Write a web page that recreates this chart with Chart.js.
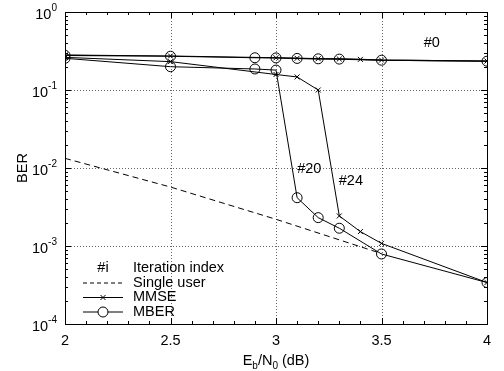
<!DOCTYPE html>
<html><head><meta charset="utf-8">
<script src="https://cdn.jsdelivr.net/npm/chart.js@4"></script>
<style>html,body{margin:0;padding:0;background:#fff}#c{display:block}</style>
</head><body>
<div style="width:504px;height:371px"><canvas id="c" width="504" height="371"></canvas></div>
<script>
// ---- data ----
const xTicks = [2, 2.5, 3, 3.5, 4];
const xTickLabels = ['2', '2.5', '3', '3.5', '4'];
const yTicks = [1, 0.1, 0.01, 0.001, 0.0001];
const yTickExponents = ['0', '-1', '-2', '-3', '-4'];

const snrMMSE0 = [2, 2.5, 3, 3.1, 3.2, 3.3, 3.4, 3.5, 4];
const berMMSE0 = [0.281, 0.273, 0.259, 0.255, 0.252, 0.25, 0.247, 0.242, 0.235];
const snrMBER0 = [2, 2.5, 2.9, 3, 3.1, 3.2, 3.3, 3.5, 4];
const berMBER0 = [0.278, 0.271, 0.259, 0.258, 0.254, 0.251, 0.249, 0.241, 0.234];
const snrMMSE24 = [2, 2.5, 3, 3.1, 3.2, 3.3, 3.4, 3.5, 4];
const berMMSE24 = [0.262, 0.231, 0.158, 0.147, 0.1, 0.00243, 0.00153, 0.00108, 0.00034];
const snrMBER20 = [2, 2.5, 2.9, 3, 3.1, 3.2, 3.3, 3.5, 4];
const berMBER20 = [0.255, 0.199, 0.186, 0.180, 0.00416, 0.00231, 0.00169, 0.00079, 0.00034];
const snrSingle = [2, 2.5, 3, 3.5];
const berSingle = [0.0133, 0.0057, 0.0022, 0.0008];

const annotationTexts = ['#0', '#20', '#24'];
const annotationX = [3.738, 3.158, 3.355];
const annotationY = [0.404, 0.0097, 0.0068];

const legendLabels = ['Iteration index', 'Single user', 'MMSE', 'MBER'];

const pts = (xs, ys) => xs.map((x, i) => ({x: x, y: ys[i]}));
const FONT = '"Liberation Sans", Arial, Helvetica, sans-serif';
const FS = 14.5;

function ds(label, xs, ys, style, opts) {
  return Object.assign({
    label: label,
    data: pts(xs, ys),
    borderColor: '#000',
    borderWidth: 1,
    pointStyle: style,
    pointRadius: style === 'circle' ? 5 : (style === 'crossRot' ? 3.5 : 0),
    pointBorderColor: '#000',
    pointBackgroundColor: 'rgba(0,0,0,0)',
    pointBorderWidth: 1,
    fill: false,
    tension: 0
  }, opts || {});
}

const decor = {
  id: 'decor',
  beforeDatasetsDraw(chart) {
    const ctx = chart.ctx, a = chart.chartArea, xs = chart.scales.x, ys = chart.scales.y;
    ctx.save();
    ctx.strokeStyle = '#666';
    ctx.lineWidth = 1;
    ctx.setLineDash([1, 2]);
    xTicks.forEach(v => {
      if (v === xTicks[0] || v === xTicks[xTicks.length - 1]) return;
      const px = Math.round(xs.getPixelForValue(v)) + 0.5;
      ctx.beginPath(); ctx.moveTo(px, a.top); ctx.lineTo(px, a.bottom); ctx.stroke();
    });
    yTicks.forEach((v, i) => {
      if (i === 0 || i === yTicks.length - 1) return;
      const py = Math.round(ys.getPixelForValue(v)) + 0.5;
      ctx.beginPath(); ctx.moveTo(a.left, py); ctx.lineTo(a.right, py); ctx.stroke();
    });
    ctx.restore();
  },
  afterDraw(chart) {
    const ctx = chart.ctx, a = chart.chartArea, xs = chart.scales.x, ys = chart.scales.y;
    ctx.save();
    ctx.strokeStyle = '#000';
    ctx.fillStyle = '#000';
    ctx.lineWidth = 1;
    ctx.setLineDash([]);
    // minor x ticks
    for (let k = 0; k <= 20; k++) {
      const v = 2 + k * 0.1;
      const px = Math.round(xs.getPixelForValue(v)) + 0.5;
      const major = (k % 5 === 0);
      const len = major ? 6 : 3;
      ctx.beginPath();
      ctx.moveTo(px, a.bottom); ctx.lineTo(px, a.bottom - len);
      ctx.moveTo(px, a.top); ctx.lineTo(px, a.top + len);
      ctx.stroke();
    }
    // y ticks (log)
    for (let e = -4; e <= 0; e++) {
      for (let m = 1; m <= 9; m++) {
        const v = m * Math.pow(10, e);
        if (v > 1.0000001) break;
        const py = Math.round(ys.getPixelForValue(v)) + 0.5;
        const len = m === 1 ? 6 : 3;
        ctx.beginPath();
        ctx.moveTo(a.left, py); ctx.lineTo(a.left + len, py);
        ctx.moveTo(a.right, py); ctx.lineTo(a.right - len, py);
        ctx.stroke();
      }
    }
    // frame
    ctx.strokeRect(Math.round(a.left) + 0.5, Math.round(a.top) + 0.5,
      Math.round(a.right - a.left), Math.round(a.bottom - a.top));

    // x tick labels
    ctx.font = FS + 'px ' + FONT;
    ctx.textAlign = 'center';
    ctx.textBaseline = 'alphabetic';
    xTicks.forEach((v, i) => {
      ctx.fillText(xTickLabels[i], xs.getPixelForValue(v), a.bottom + 21);
    });
    // y tick labels with superscripts
    yTicks.forEach((v, i) => {
      const py = ys.getPixelForValue(v);
      ctx.font = '10px ' + FONT;
      const we = ctx.measureText(yTickExponents[i]).width;
      ctx.font = FS + 'px ' + FONT;
      const wb = ctx.measureText('10').width;
      const right = a.left - 8;
      ctx.textAlign = 'left';
      ctx.fillText('10', right - we - wb, py + 7);
      ctx.font = '10px ' + FONT;
      ctx.fillText(yTickExponents[i], right - we, py - 1);
    });
    // x title: E_b/N_0 (dB)
    const parts = [['E', FS, 0], ['b', 10, 4], ['/N', FS, 0], ['0', 10, 4], [' (dB)', FS, 0]];
    let total = 0;
    parts.forEach(p => { ctx.font = p[1] + 'px ' + FONT; total += ctx.measureText(p[0]).width; });
    let cx = (a.left + a.right) / 2 - total / 2;
    ctx.textAlign = 'left';
    parts.forEach(p => {
      ctx.font = p[1] + 'px ' + FONT;
      ctx.fillText(p[0], cx, a.bottom + 41 + p[2]);
      cx += ctx.measureText(p[0]).width;
    });
    // y title
    ctx.save();
    ctx.translate(26.5, (a.top + a.bottom) / 2);
    ctx.rotate(-Math.PI / 2);
    ctx.font = FS + 'px ' + FONT;
    ctx.textAlign = 'center';
    ctx.fillText('BER', 0, 0);
    ctx.restore();

    // annotations
    ctx.font = FS + 'px ' + FONT;
    ctx.textAlign = 'center';
    ctx.textBaseline = 'middle';
    annotationTexts.forEach((t, i) => {
      ctx.fillText(t, xs.getPixelForValue(annotationX[i]), ys.getPixelForValue(annotationY[i]));
    });

    // legend
    const lx0 = a.left + 18, lx1 = a.left + 58, lmid = (lx0 + lx1) / 2, tx = a.left + 68;
    const rowY = [a.bottom - 56, a.bottom - 41.5, a.bottom - 27, a.bottom - 12.5];
    ctx.textBaseline = 'middle';
    ctx.textAlign = 'center';
    ctx.fillText('#i', lmid, rowY[0]);
    ctx.textAlign = 'left';
    legendLabels.forEach((t, i) => ctx.fillText(t, tx, rowY[i]));
    ctx.lineWidth = 1;
    ctx.setLineDash([4, 3]);
    ctx.beginPath(); ctx.moveTo(lx0, rowY[1] + 0.5); ctx.lineTo(lx1, rowY[1] + 0.5); ctx.stroke();
    ctx.setLineDash([]);
    ctx.beginPath(); ctx.moveTo(lx0, rowY[2] + 0.5); ctx.lineTo(lx1, rowY[2] + 0.5); ctx.stroke();
    ctx.beginPath(); ctx.moveTo(lx0, rowY[3] + 0.5); ctx.lineTo(lx1, rowY[3] + 0.5); ctx.stroke();
    // markers in legend
    const d = 2.5;
    ctx.beginPath();
    ctx.moveTo(lmid - d, rowY[2] + 0.5 - d); ctx.lineTo(lmid + d, rowY[2] + 0.5 + d);
    ctx.moveTo(lmid - d, rowY[2] + 0.5 + d); ctx.lineTo(lmid + d, rowY[2] + 0.5 - d);
    ctx.stroke();
    ctx.fillStyle = '#fff';
    ctx.beginPath(); ctx.arc(lmid, rowY[3] + 0.5, 5, 0, Math.PI * 2); ctx.fill(); ctx.stroke();
    ctx.restore();
  }
};

new Chart(document.getElementById('c'), {
  type: 'line',
  data: {
    datasets: [
      ds('Single user', snrSingle, berSingle, false, {borderDash: [6, 4], pointRadius: 0}),
      ds('MMSE #0', snrMMSE0, berMMSE0, 'crossRot', {borderWidth: 1.2}),
      ds('MBER #0', snrMBER0, berMBER0, 'circle', {borderWidth: 1.2}),
      ds('MMSE #24', snrMMSE24, berMMSE24, 'crossRot'),
      ds('MBER #20', snrMBER20, berMBER20, 'circle')
    ]
  },
  options: {
    responsive: false,
    animation: false,
    events: [],
    layout: {padding: {left: 65, right: 17, top: 12, bottom: 47}},
    plugins: {legend: {display: false}, tooltip: {enabled: false}},
    scales: {
      x: {type: 'linear', min: 2, max: 4, display: false},
      y: {type: 'logarithmic', min: 0.0001, max: 1, display: false}
    }
  },
  plugins: [decor]
});
</script>
</body></html>
